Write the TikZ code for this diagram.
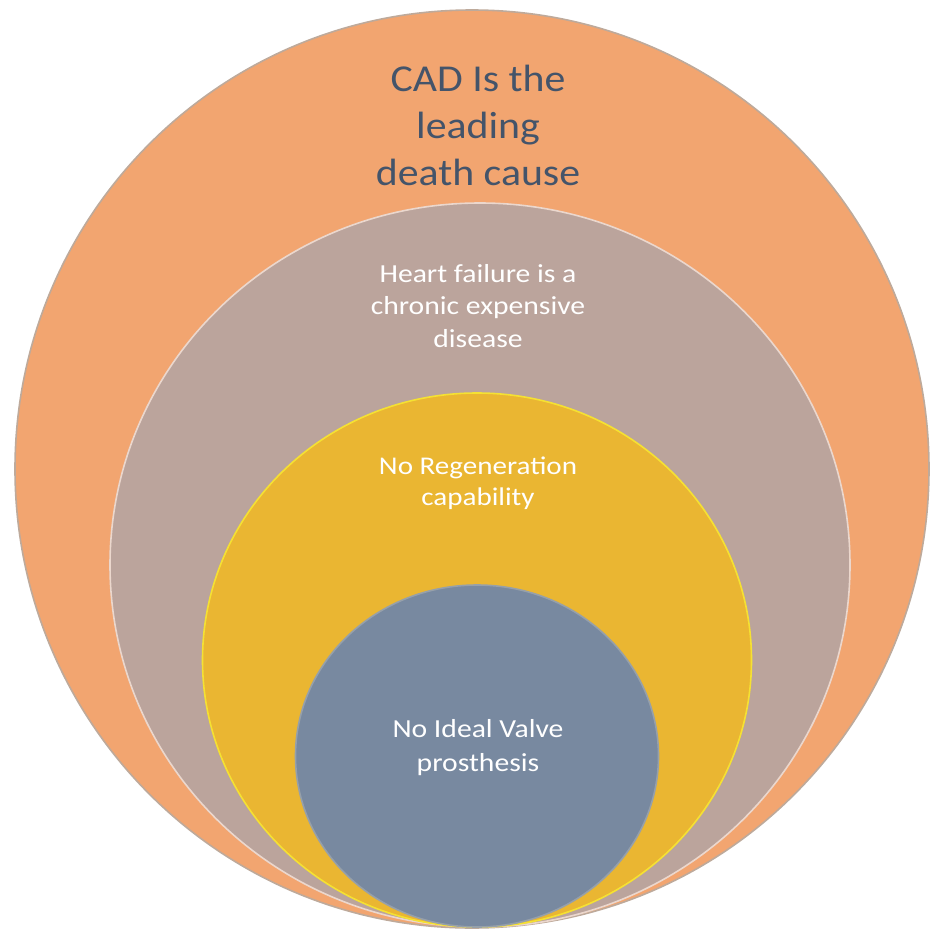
\documentclass[tikz,border=0pt]{standalone}
\usepackage{fontspec}
\setmainfont{Carlito}
\newfontfamily\cadfont[FakeStretch=1.10]{Carlito}
\newfontfamily\widefont[FakeStretch=1.14]{Carlito}
\usetikzlibrary{shapes.geometric}
\definecolor{cadfill}{RGB}{242,165,112}
\definecolor{cadrim}{RGB}{190,170,155}
\definecolor{hffill}{RGB}{187,164,156}
\definecolor{hfrim}{RGB}{235,215,205}
\definecolor{regfill}{RGB}{234,182,50}
\definecolor{regrim}{RGB}{245,225,50}
\definecolor{valfill}{RGB}{120,137,160}
\definecolor{valrim}{RGB}{150,160,170}
\definecolor{darktext}{RGB}{68,84,106}
\begin{document}
\begin{tikzpicture}[x=1pt,y=-1pt,
  disc/.style={ellipse, inner sep=0pt, outer sep=0pt, line width=1.6pt},
  label/.style={align=center, inner sep=0pt}]
\useasboundingbox (0,0) rectangle (930,932);
\node[disc, fill=cadfill, draw=cadrim, minimum width=914pt, minimum height=918pt] (cad) at (472,469) {};
\node[disc, fill=hffill, draw=hfrim, minimum width=740pt, minimum height=724pt] (hf) at (480,565) {};
\node[disc, fill=regfill, draw=regrim, minimum width=549pt, minimum height=534pt] (reg) at (477,660) {};
\node[disc, fill=valfill, draw=valrim, minimum width=363pt, minimum height=342pt] (val) at (477,756) {};
\node[label, text=darktext, font=\cadfont\fontsize{38}{47}\selectfont] (cadtext) at (478,125) {CAD Is the\\leading\\death cause};
\node[label, text=white, font=\widefont\fontsize{26}{32.5}\selectfont] (hftext) at (478,306) {Heart failure is a\\chronic expensive\\disease};
\node[label, text=white, font=\widefont\fontsize{25.5}{31.5}\selectfont] (regtext) at (478,483) {No Regeneration\\capability};
\node[label, text=white, font=\widefont\fontsize{26}{34}\selectfont] (valtext) at (478,748) {No Ideal Valve\\prosthesis};
\end{tikzpicture}
\end{document}
